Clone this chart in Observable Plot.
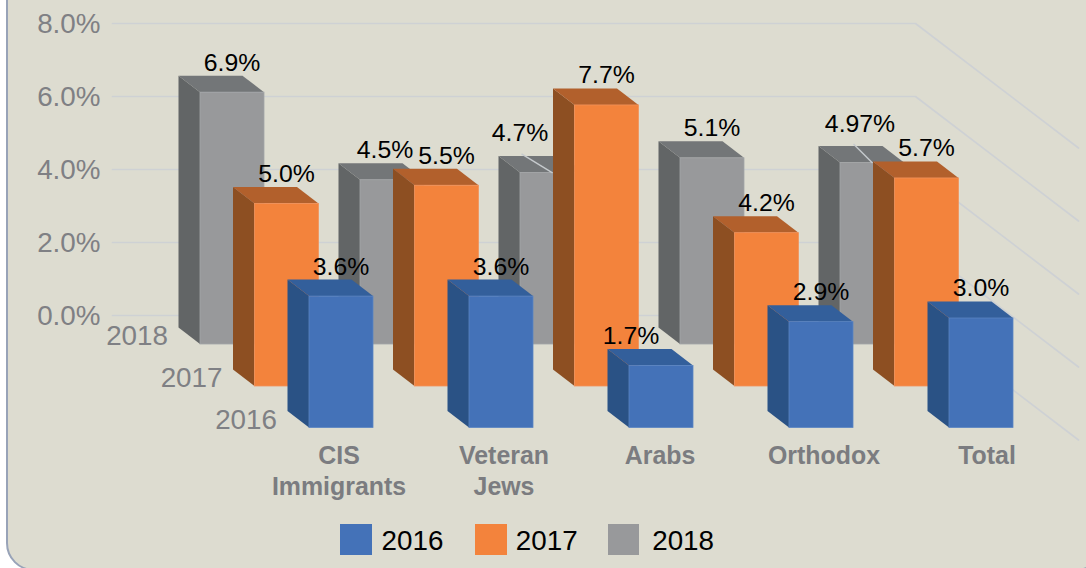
<!DOCTYPE html>
<html>
<head>
<meta charset="utf-8">
<script src="https://cdn.jsdelivr.net/npm/d3@7"></script>
<script src="https://cdn.jsdelivr.net/npm/@observablehq/plot@0.6"></script>
<style>
html,body{margin:0;padding:0;background:#fff;overflow:hidden;width:1086px;height:568px;font-family:"Liberation Sans",Arial,sans-serif}
#panel{position:absolute;left:5.5px;top:-40px;width:1094px;height:607px;background:#dddcd0;border:2px solid #98a3b8;border-radius:28px}
#chart{position:absolute;left:0;top:0}
#legend{position:absolute;left:340px;top:524px;height:31px;display:flex;align-items:center;font-size:27.8px;color:#000}
#legend i{display:block;width:31.5px;height:31px;margin-right:10px}
#legend span{display:block;line-height:33px;height:31px;margin-right:31px}
#legend i.last{margin-left:-1px;margin-right:13px}
#legend i.mid{margin-left:1px;margin-right:9px}
</style>
</head>
<body>
<div id="panel"></div>
<div id="chart"></div>
<div id="legend"></div>
<script>
const categories = ["CIS\nImmigrants", "Veteran\nJews", "Arabs", "Orthodox", "Total"];
const years = ["2016", "2017", "2018"];
const values2016 = [3.6, 3.6, 1.7, 2.9, 3.0];
const values2017 = [5.0, 5.5, 7.7, 4.2, 5.7];
const values2018 = [6.9, 4.5, 4.7, 5.1, 4.97];
const yTicks = [0, 2, 4, 6, 8];

// Pixel-per-unit of the two scales: one category step, one percentage point.
const PX_X = 160, PX_Y = 36.5;
const ux = (n) => n / PX_X;
const uy = (n) => n / PX_Y;

// Layout of the false 3D, in scale units.
const barW = ux(64), depthX = ux(21.5), depthY = uy(16.5);
const layout = [
  {year: "2018", values: values2018, dx: ux(0), base: uy(-29), front: "#98999b", edge: "#a3a6a9", side: "#626566", top: "#737678"},
  {year: "2017", values: values2017, dx: ux(54.5), base: uy(-71), front: "#f3833c", edge: "#f2925a", side: "#8d4f22", top: "#b2602c"},
  {year: "2016", values: values2016, dx: ux(109), base: uy(-112.5), front: "#4472b8", edge: "#5a84c2", side: "#2a5285", top: "#335f9b"}
];
// label shifts (px) where the original moved a label off its bar centre
const labelShift = {
  "2018": [[0, 0], [-7, 0], [-32, -9.5], [0, 0], [-12, -9]],
  "2017": [[0, 0], [0, 0], [0, 0], [0, 0], [0, 0]],
  "2016": [[0, 0], [0, 0], [-30, 0], [0, 0], [0, 0]]
};
const catShift = [-2.5, 2.5, -1.5, 2.5, 5.5];

const wallLeft = ux(-88), wallRight = ux(715), wallEnd = ux(878), wallDrop = uy(-124.5);

const rows = layout.map((s) => ({
  ...s,
  bars: s.values.map((v, i) => {
    const x1 = i + s.dx, x2 = x1 + barW, y1 = s.base, y2 = s.base + v;
    return {id: s.year + i, i, v, x1, x2, y1, y2};
  })
}));

const gridPts = yTicks.flatMap((t) => [
  {t, x: wallLeft, y: t},
  {t, x: wallRight, y: t},
  {t, x: wallEnd, y: t + wallDrop}
]);

const fmt = (v) => (Math.round(v * 10) / 10 === v ? v.toFixed(1) : v.toFixed(2)) + "%";

const barMarks = rows.flatMap((s) => {
  const side = s.bars.flatMap((b) => [
    {id: b.id, x1: b.x1 - depthX, x2: b.x1 - depthX, y1: b.y1 + depthY, y2: b.y2 + depthY},
    {id: b.id, x1: b.x1, x2: b.x1, y1: b.y1, y2: b.y2}
  ]);
  const top = s.bars.flatMap((b) => [
    {id: b.id, x1: b.x1 - depthX, x2: b.x2 - depthX, y1: b.y2 + depthY, y2: b.y2 + depthY},
    {id: b.id, x1: b.x1, x2: b.x2, y1: b.y2, y2: b.y2}
  ]);
  const opts = {x1: "x1", x2: "x2", y1: "y1", y2: "y2", z: "id"};
  return [
    Plot.area(side, {...opts, fill: s.side}),
    Plot.area(top, {...opts, fill: s.top}),
    Plot.rect(s.bars, {x1: "x1", x2: "x2", y1: "y1", y2: "y2", fill: s.front, stroke: s.edge, strokeWidth: 0.8})
  ];
});

const valueLabels = rows.flatMap((s) => s.bars.map((b) => {
  const [sx, sy] = labelShift[s.year][b.i];
  return {
    text: fmt(b.v),
    x: (b.x1 + b.x2) / 2 + ux(sx - 0.5),
    y: b.y2 + depthY + uy(13.5) - uy(sy)
  };
}));

// thin leader lines joining two moved labels to their bars
const leaders = [
  {bar: rows[0].bars[2], ox: -31, oy: 19},
  {bar: rows[0].bars[4], ox: -19, oy: 19}
].map(({bar, ox, oy}) => {
  const x2 = (bar.x1 + bar.x2) / 2, y2 = bar.y2;
  return {x1: x2 + ux(ox), y1: y2 + uy(oy), x2, y2};
});

const depthLabels = rows.map((s) => ({
  text: s.year,
  x: s.dx - depthX + ux(-11),
  y: s.base + depthY + uy(-8.5)
}));

const catLabels = categories.map((c, i) => ({
  text: c,
  x: i + rows[2].dx + barW / 2 + ux(catShift[i]),
  y: uy(315 - 441)
}));

const plot = Plot.plot({
  width: 1086,
  height: 568,
  margin: 0,
  style: {background: "transparent", overflow: "visible", fontFamily: "'Liberation Sans', Arial, sans-serif"},
  x: {axis: null, domain: [ux(-200), ux(886)], range: [0, 1086]},
  y: {axis: null, domain: [uy(315 - 568), uy(315)], range: [568, 0]},
  marks: [
    Plot.line(gridPts, {x: "x", y: "y", z: "t", stroke: "#ced1d4", strokeWidth: 1.7}),
    Plot.text(yTicks, {
      x: ux(-100), y: (d) => d + uy(-1), text: (d) => d.toFixed(1) + "%",
      textAnchor: "end", fontSize: 27.8, fill: "#7f8084"
    }),
    ...barMarks,
    Plot.link(leaders, {x1: "x1", y1: "y1", x2: "x2", y2: "y2", stroke: "#c6cacd", strokeWidth: 1.4}),
    Plot.text(depthLabels, {x: "x", y: "y", text: "text", textAnchor: "end", fontSize: 27.8, fill: "#7f8084"}),
    Plot.text(catLabels, {
      x: "x", y: "y", text: "text", lineAnchor: "top", lineHeight: 1.25,
      fontSize: 24.9, fontWeight: "bold", fill: "#7b7c80"
    }),
    Plot.text(valueLabels, {x: "x", y: "y", text: "text", fontSize: 24.8, fill: "#000"})
  ]
});
document.getElementById("chart").appendChild(plot);

const legend = document.getElementById("legend");
years.forEach((y, k) => {
  const s = layout.find((d) => d.year === y);
  const sw = document.createElement("i");
  sw.style.background = s.front;
  sw.className = k === 2 ? "last" : k === 1 ? "mid" : "";
  const t = document.createElement("span");
  t.textContent = y;
  legend.append(sw, t);
});
</script>
</body>
</html>
